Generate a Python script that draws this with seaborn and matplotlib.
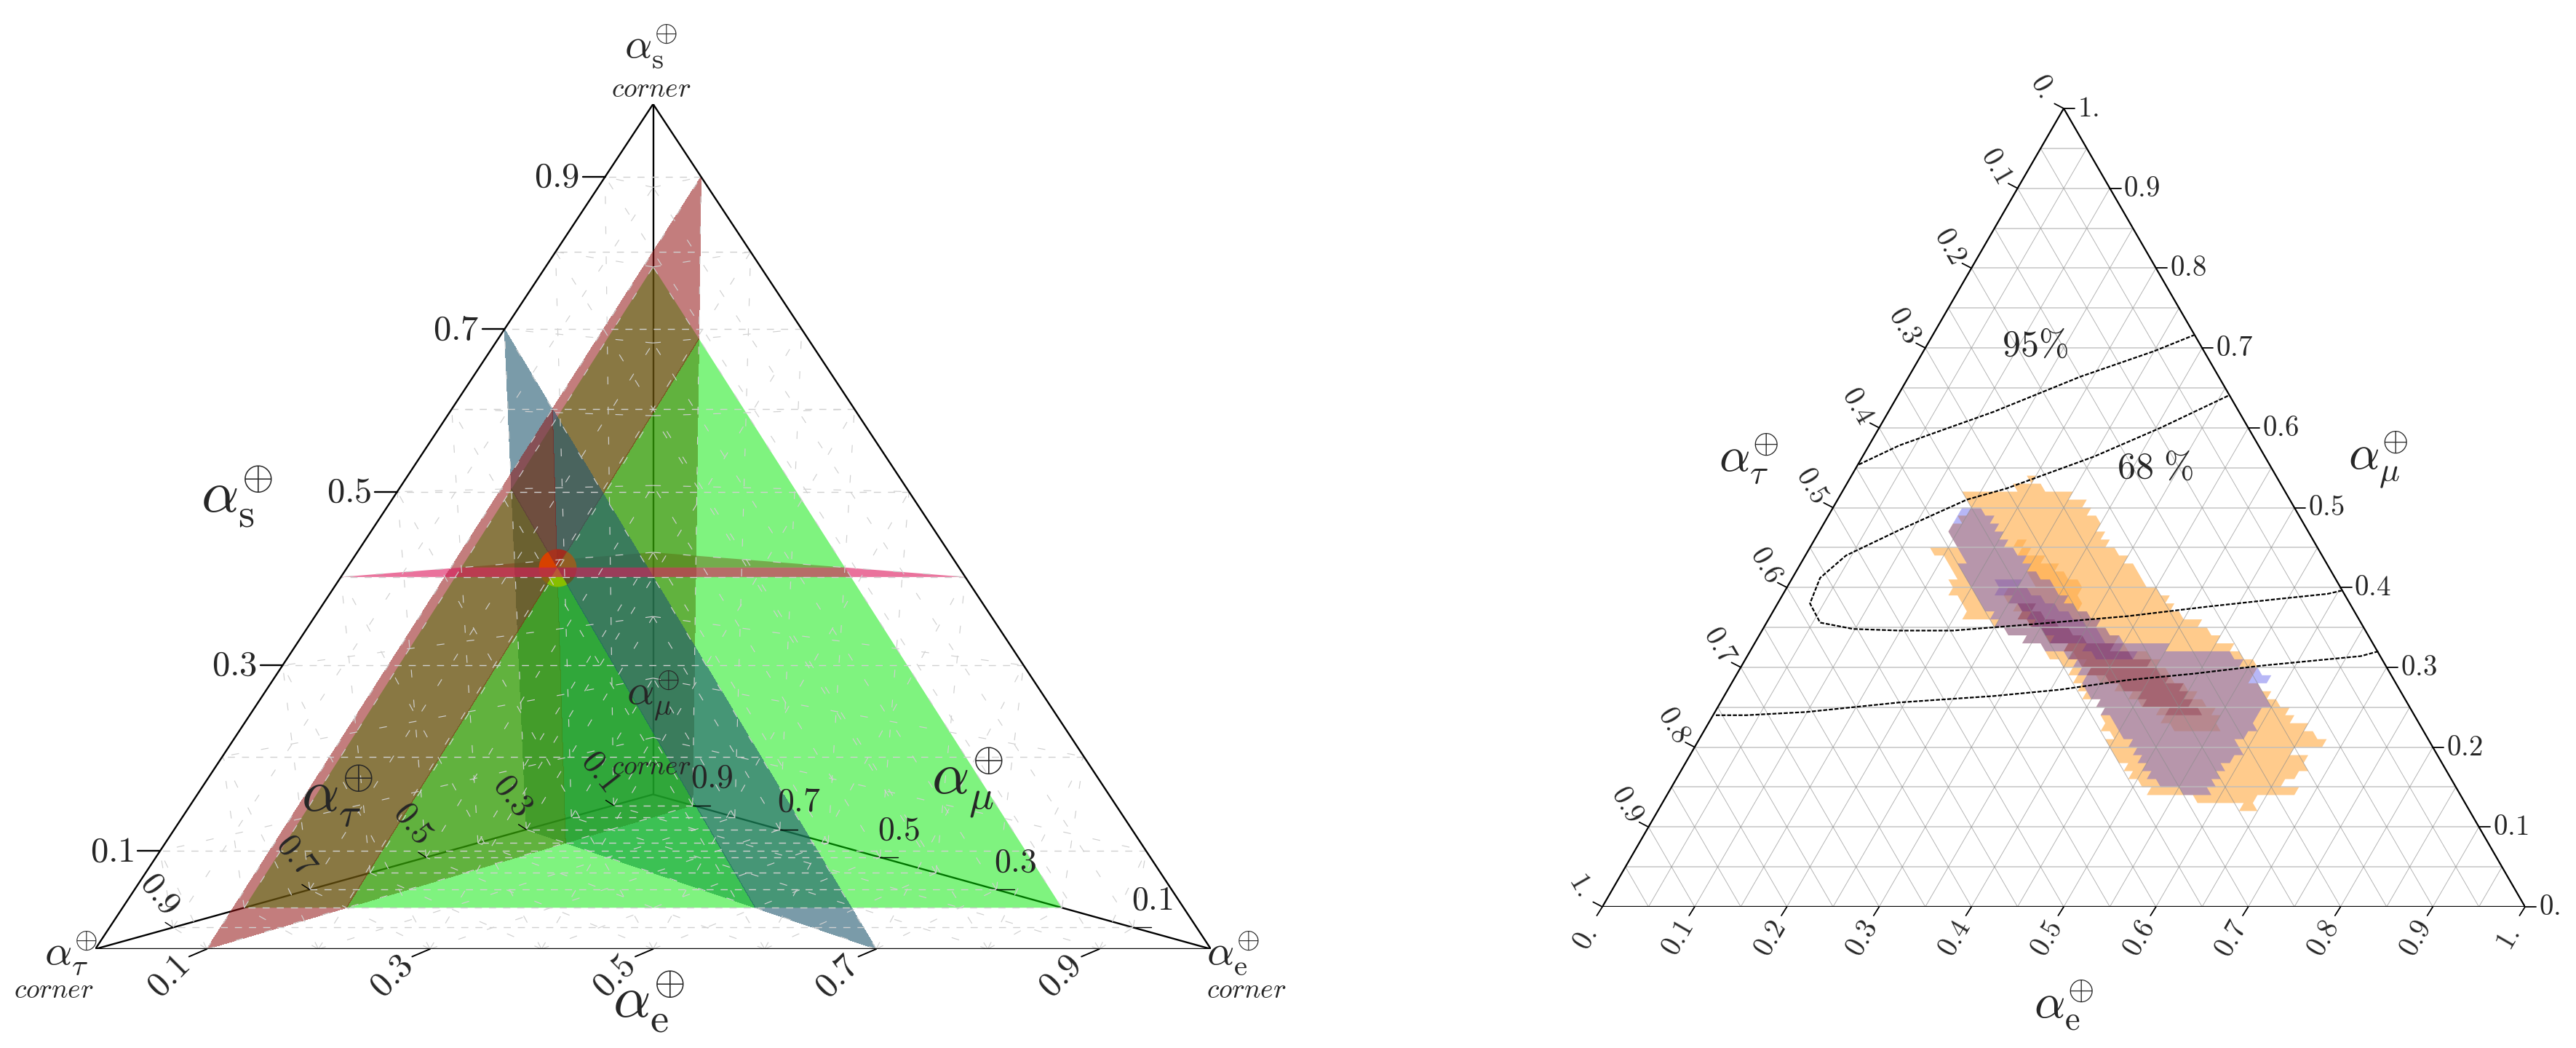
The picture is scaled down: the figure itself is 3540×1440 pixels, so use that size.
import matplotlib
matplotlib.use("Agg")
import matplotlib.pyplot as plt
import numpy as np
import pandas as pd
import seaborn as sns
from matplotlib.patches import PathPatch, Polygon
from matplotlib.path import Path

# flavour point and its four planes (e, mu, tau, s)
best_fit = (0.1, 0.2, 0.3, 0.4)
tick_values = [0.1, 0.3, 0.5, 0.7, 0.9]
grid_levels = [0.1, 0.2, 0.3, 0.4, 0.5, 0.6, 0.7, 0.8, 0.9]

# right panel: rows of the two histograms, left and right end of each row
orange_mu = [0.53, 0.52, 0.51, 0.50, 0.49, 0.48, 0.47, 0.46, 0.45, 0.44, 0.43, 0.42, 0.41, 0.40,
             0.39, 0.38, 0.37, 0.36, 0.35, 0.34, 0.33, 0.32, 0.31, 0.30, 0.29, 0.28, 0.27, 0.26,
             0.25, 0.24, 0.23, 0.22, 0.21, 0.20, 0.19, 0.18, 0.17, 0.16, 0.15, 0.14, 0.13, 0.12]
orange_left = [.465, .450, .395, .397, .399, .386, .378, .379, .383, .358, .372, .378, .383, .378,
               .378, .386, .395, .395, .423, .437, .460, .476, .483, .497, .506, .513, .518, .522,
               .536, .541, .541, .543, .553, .550, .552, .559, .566, .574, .585, .592, .645, .694]
orange_right = [.470, .478, .509, .522, .529, .536, .539, .544, .550, .557, .569, .576, .583, .590,
                .604, .611, .617, .629, .648, .659, .669, .683, .694, .706, .710, .704, .715, .722,
                .734, .743, .748, .761, .771, .785, .746, .761, .761, .754, .736, .754, .708, .710]

blue_mu = [0.49, 0.48, 0.47, 0.46, 0.45, 0.44, 0.43, 0.42, 0.41, 0.40, 0.39, 0.38, 0.37, 0.36,
           0.35, 0.34, 0.33, 0.32, 0.31, 0.30, 0.29, 0.28, 0.27, 0.26, 0.25, 0.24, 0.23, 0.22,
           0.21, 0.20, 0.19, 0.18, 0.17, 0.16, 0.15, 0.14]
blue_left = [.386, .381, .376, .379, .383, .386, .392, .390, .393, .399, .404, .407, .413, .423,
             .429, .437, .458, .479, .504, .511, .518, .522, .525, .530, .537, .544, .553, .560,
             .564, .573, .578, .583, .588, .595, .602, .627]
blue_right = [.411, .422, .427, .432, .437, .446, .457, .465, .474, .487, .495, .502, .511, .529,
              .536, .550, .564, .613, .682, .694, .711, .724, .715, .720, .724, .713, .708, .710,
              .696, .689, .692, .682, .673, .666, .662, .657]

dense_mu = [0.45, 0.44, 0.43, 0.42, 0.41, 0.40, 0.39, 0.38, 0.37, 0.36, 0.35, 0.34, 0.33, 0.32,
            0.31, 0.30, 0.29, 0.28, 0.27, 0.26, 0.25, 0.24, 0.23, 0.22]
dense_left = [.448, .451, .458, .465, .465, .469, .437, .437, .448, .455, .465, .476, .483, .501,
              .511, .522, .529, .539, .557, .574, .581, .602, .606, .620]
dense_right = [.458, .465, .479, .494, .501, .518, .518, .518, .518, .530, .539, .550, .557, .567,
               .592, .602, .613, .620, .631, .641, .655, .662, .666, .669]

core_mu = [0.37, 0.36, 0.35, 0.34, 0.33, 0.32, 0.31, 0.30, 0.29, 0.28, 0.27, 0.26, 0.25, 0.24]
core_left = [.451, .455, .462, .479, .483, .501, .508, .518, .529, .550, .564, .581, .588, .613]
core_right = [.469, .479, .494, .508, .522, .553, .571, .592, .602, .613, .627, .634, .638, .648]

blue_dense_mu = [0.40, 0.39, 0.38, 0.37, 0.36, 0.35, 0.34, 0.33, 0.32, 0.31]
blue_dense_left = [.430, .430, .441, .451, .462, .469, .479, .490, .522, .532]
blue_dense_right = [.451, .465, .479, .494, .508, .522, .536, .543, .564, .578]

# right panel: dashed contours
upper_x = [.278, .322, .424, .518, .598, .641]
upper_y = [.554, .578, .620, .664, .696, .716]
middle_x = [.678, .605, .533, .438, .395, .322, .264, .236, .225, .236, .272, .322, .380, .467, .569, .656, .736, .786, .801]
middle_y = [.640, .600, .564, .524, .510, .472, .440, .412, .380, .356, .348, .346, .346, .354, .364, .376, .386, .392, .396]
lower_x = [.123, .156, .221, .322, .424, .496, .569, .641, .714, .786, .822, .841]
lower_y = [.240, .240, .244, .256, .264, .272, .284, .292, .302, .310, .314, .320]

RED = (146 / 255, 19 / 255, 19 / 255)
GREEN = (0, 232 / 255, 0)
BLUE = (33 / 255, 88 / 255, 113 / 255)
PINK = (220 / 255, 20 / 255, 90 / 255)
ALPHA = {"r": 0.55, "g": 0.5, "b": 0.6}
COLOR = {"r": RED, "g": GREEN, "b": BLUE}

# perspective weights of the four corners
W = np.array([1.0, 1.457, 1.0, 1.18])
CORNERS = np.array([[1, 0], [0.5, 0.183], [0, 0], [0.5, 1.0]])


def project(point):
    w = np.array(point) * W
    return (w[:, None] * CORNERS).sum(axis=0) / w.sum()


def cross2(a, b):
    return a[0] * b[1] - a[1] * b[0]


def clip_side(poly, center, direction, sign):
    out = []
    for j in range(len(poly)):
        p, q = np.array(poly[j]), np.array(poly[(j + 1) % len(poly)])
        sp = sign * cross2(direction, p - center)
        sq = sign * cross2(direction, q - center)
        if sp >= 0:
            out.append(p)
        if sp * sq < 0:
            out.append(p + (q - p) * sp / (sp - sq))
    return out


def clip_wedge(poly, center, first, last):
    # keep what lies clockwise of first and counter-clockwise of last
    out = clip_side(poly, center, first - center, -1)
    if len(out) > 2:
        out = clip_side(out, center, last - center, 1)
    return out


def draw_left(ax):
    e, mu, tau, s = best_fit
    center = project(best_fit)
    corner = {k: tuple(np.eye(4)[i]) for i, k in enumerate("emts")}

    # tetrahedron mesh
    faces = ["ets", "mts", "mes", "etm"]
    idx = {"e": 0, "m": 1, "t": 2, "s": 3}
    for face in faces:
        for a in face:
            b, c = [k for k in face if k != a]
            for lev in grid_levels:
                p1 = np.zeros(4)
                p1[idx[a]] = lev
                p2 = p1.copy()
                p1[idx[b]] = 1 - lev
                p2[idx[c]] = 1 - lev
                q1, q2 = project(p1), project(p2)
                flat = abs(q1[1] - q2[1]) < 1e-3
                ls = (0, (7, 7)) if flat else (0, (9, 26))
                ax.plot([q1[0], q2[0]], [q1[1], q2[1]], color="#d0d0d0", lw=1.0 if flat else 0.85,
                        ls=ls, zorder=6)

    # back edges
    for k in "tes":
        q = np.array([project(corner["m"]), project(corner[k])])
        sns.lineplot(x=q[:, 0], y=q[:, 1], ax=ax, color="black", lw=1.7, sort=False, estimator=None, zorder=1)

    # pink plane, part behind the others
    back = [project((0, mu, 1 - mu - s, s)), project((1 - mu - s, mu, 0, s)), project((0, 1 - s, 0, s))]
    ax.fill(*zip(*back), color=PINK, alpha=0.6, lw=0, zorder=2)

    red = [project((e, 1 - e, 0, 0)), project((e, 0, 1 - e, 0)), project((e, 0, 0, 1 - e))]
    green = [project((1 - mu, mu, 0, 0)), project((0, mu, 1 - mu, 0)), project((0, mu, 0, 1 - mu))]
    blue = [project((1 - tau, 0, tau, 0)), project((0, 1 - tau, tau, 0)), project((0, 0, tau, 1 - tau))]

    rb_up = project((e, 0, tau, s + mu))
    rg_up = project((e, mu, 0, s + tau))
    gb_down = project((e + s, mu, tau, 0))
    rb_down = project((e, mu + s, tau, 0))
    rg_down = project((e, mu, tau + s, 0))
    gb_up = project((0, mu, tau, s + e))

    # painter's order: green stays whole, red and blue are cut along the real crossings
    layers = [
        ("r", rg_up, rb_down),
        ("b", gb_down, gb_up),
        ("r", rb_down, rg_down),
        ("g", None, None),
        ("r", rb_up, rg_up),
        ("b", gb_up, gb_down),
        ("r", rg_down, rb_up),
    ]
    plane = {"r": red, "g": green, "b": blue}
    for z, (key, first, last) in enumerate(layers):
        piece = plane[key] if first is None else clip_wedge(plane[key], center, first, last)
        if len(piece) > 2:
            ax.fill(*zip(*piece), color=COLOR[key], alpha=ALPHA[key], lw=0, antialiased=key == "g", zorder=3 + z * 0.01)

    # the marker at the crossing changes tint with the surfaces around it
    left_end = project((0, 0, 1 - s, s))
    right_end = project((1 - s, 0, 0, s))
    marker_parts = [
        (rb_up, rg_up, "#a02d1e"),
        (rg_up, right_end, "#915f23"),
        (right_end, gb_down, "#5a5a28"),
        (gb_down, rg_down, "#87be00"),
        (rg_down, left_end, "#876414"),
        (left_end, gb_up, "#d74100"),
        (gb_up, rb_up, "#a5321e"),
    ]
    for a, b, col in marker_parts:
        far_a = center + 6 * (a - center)
        far_b = center + 6 * (b - center)
        dots = ax.scatter([center[0]], [center[1]], s=1400, color=col, lw=0, zorder=4)
        dots.set_clip_path(Polygon([center, far_a, far_b], transform=ax.transData))

    # pink plane, front band
    band = [project((0, 0, 1 - s, s)), project((1 - s, 0, 0, s)),
            project((1 - s - mu, mu, 0, s)), project((0, mu, 1 - s - mu, s))]
    ax.fill(*zip(*band), color=PINK, alpha=0.6, lw=0, zorder=5)

    # outer edges
    q = np.array([project(corner["t"]), project(corner["s"]), project(corner["e"]), project(corner["t"])])
    sns.lineplot(x=q[:, 0], y=q[:, 1], ax=ax, color="black", lw=1.7, sort=False, estimator=None, zorder=7)

    for v in tick_values:
        p = project((0, 0, 1 - v, v))
        ax.plot([p[0] - 0.02, p[0]], [p[1], p[1]], color="black", lw=1.7, zorder=7, clip_on=False)
        ax.text(p[0] - 0.023, p[1], f"${v}$", fontsize=35, ha="right", va="center", clip_on=False)

        p = project((v, 0, 1 - v, 0))
        ax.plot([p[0] - 0.016, p[0]], [p[1] - 0.009, p[1]], color="black", lw=1.4, zorder=7, clip_on=False)
        ax.text(p[0] - 0.035, p[1] - 0.032, f"${v}$", fontsize=35, rotation=45, ha="center", va="center", clip_on=False)

        p = project((0, 1 - v, v, 0))
        ax.plot([p[0] - 0.007, p[0]], [p[1] + 0.006, p[1]], color="black", lw=1.0, zorder=7)
        ax.text(p[0] - 0.012, p[1] + 0.04, f"${v}$", fontsize=33, rotation=-52, ha="center", va="center", zorder=8)

        p = project((1 - v, v, 0, 0))
        ax.plot([p[0], p[0] + 0.016], [p[1], p[1]], color="black", lw=1.0, zorder=7)
        ax.text(p[0] + 0.017, p[1] + 0.032, f"${v}$", fontsize=33, ha="center", va="center", zorder=8)

    big = 58
    small = 42
    ax.text(0.127, 0.535, r"$\alpha_{\mathrm{s}}^{\oplus}$", fontsize=big, ha="center", va="center")
    ax.text(0.217, 0.181, r"$\alpha_{\tau}^{\oplus}$", fontsize=big, ha="center", va="center", zorder=8)
    ax.text(0.782, 0.197, r"$\alpha_{\mu}^{\oplus}$", fontsize=big, ha="center", va="center", zorder=8)
    ax.text(0.496, -0.063, r"$\alpha_{\mathrm{e}}^{\oplus}$", fontsize=big, ha="center", va="center", clip_on=False)

    labels = [
        (r"$\alpha_{\mathrm{s}}^{\oplus}$", 0.498, 1.068, 0.498, 1.017),
        (r"$\alpha_{\tau}^{\oplus}$", -0.022, -0.006, -0.037, -0.049),
        (r"$\alpha_{\mathrm{e}}^{\oplus}$", 1.02, -0.006, 1.032, -0.049),
        (r"$\alpha_{\mu}^{\oplus}$", 0.5, 0.30, 0.498, 0.215),
    ]
    for txt, x1, y1, x2, y2 in labels:
        ax.text(x1, y1, txt, fontsize=small, ha="center", va="center", clip_on=False, zorder=8)
        ax.text(x2, y2, r"$\mathit{corner}$", fontsize=27, ha="center", va="center", clip_on=False, zorder=8)


def cells(mu_rows, left, right, size=0.01):
    polys = []
    for m, lo, hi in zip(mu_rows, left, right):
        x = m / 2
        while x < 1 - m / 2:
            if lo <= x + size / 2 < hi:
                polys.append([(x, m), (x + size, m), (x + size / 2, m + size)])
            if lo <= x + size < hi:
                polys.append([(x + size / 2, m + size), (x + size, m), (x + 3 * size / 2, m + size)])
            x += size
    return polys


def add_layer(ax, polys, color, alpha, z):
    # one compound path, so neighbouring triangles do not blend twice
    verts, codes = [], []
    for tri in polys:
        verts += tri + [tri[0]]
        codes += [Path.MOVETO, Path.LINETO, Path.LINETO, Path.CLOSEPOLY]
    ax.add_patch(PathPatch(Path(verts, codes), facecolor=color, alpha=alpha, lw=0, zorder=z))


def draw_right(ax):
    add_layer(ax, cells(orange_mu, orange_left, orange_right), (1, 0.55, 0), 0.45, 2)
    add_layer(ax, cells(dense_mu, dense_left, dense_right), (1, 0.55, 0), 0.3, 2.1)
    add_layer(ax, cells(core_mu, core_left, core_right), (0.75, 0.25, 0), 0.45, 2.2)
    add_layer(ax, cells(blue_mu, blue_left, blue_right), (0.2, 0.2, 0.9), 0.35, 2.3)
    add_layer(ax, cells(blue_dense_mu, blue_dense_left, blue_dense_right), (0.25, 0.05, 0.7), 0.2, 2.4)

    for lev in np.arange(0.05, 1.0, 0.05):
        ax.plot([lev / 2, 1 - lev / 2], [lev, lev], color="#bdbdbd", lw=1.3, alpha=0.75, zorder=3)
        ax.plot([lev, (1 + lev) / 2], [0, 1 - lev], color="#8c8c8c", lw=0.7, alpha=0.65, zorder=3)
        ax.plot([lev, lev / 2], [0, lev], color="#8c8c8c", lw=0.7, alpha=0.65, zorder=3)

    for xs, ys in [(upper_x, upper_y), (middle_x, middle_y), (lower_x, lower_y)]:
        sns.lineplot(x=xs, y=ys, ax=ax, color="black", lw=1.6, ls=(0, (2.5, 1)), sort=False, estimator=None, zorder=4)

    edge = pd.DataFrame({"x": [0, 0.5, 1, 0], "y": [0, 1, 0, 0]})
    sns.lineplot(data=edge, x="x", y="y", ax=ax, color="black", lw=1.6, sort=False, estimator=None, zorder=5)

    names = ["0.", "0.1", "0.2", "0.3", "0.4", "0.5", "0.6", "0.7", "0.8", "0.9", "1."]
    for i, name in enumerate(names):
        v = i / 10
        ax.plot([v - 0.006, v], [-0.011, 0], color="black", lw=1.3, clip_on=False, zorder=5)
        ax.text(v - 0.018, -0.04, f"${name}$", fontsize=28, rotation=60, ha="center", va="center", clip_on=False)
        x, y = 1 - v / 2, v
        ax.plot([x, x + 0.012], [y, y], color="black", lw=1.3, clip_on=False, zorder=5)
        ax.text(x + 0.015, y, f"${name}$", fontsize=28, ha="left", va="center", clip_on=False)
        x, y = (1 - v) / 2, 1 - v
        ax.plot([x - 0.01, x], [y + 0.006, y], color="black", lw=1.3, clip_on=False, zorder=5)
        ax.text(x - 0.023, y + 0.028, f"${name}$", fontsize=28, rotation=-60, ha="center", va="center", clip_on=False)

    ax.text(0.159, 0.56, r"$\alpha_{\tau}^{\oplus}$", fontsize=48, ha="center", va="center")
    ax.text(0.841, 0.56, r"$\alpha_{\mu}^{\oplus}$", fontsize=48, ha="center", va="center")
    ax.text(0.5, -0.124, r"$\alpha_{\mathrm{e}}^{\oplus}$", fontsize=48, ha="center", va="center", clip_on=False)
    ax.text(0.469, 0.703, r"$95\%$", fontsize=36, ha="center", va="center")
    ax.text(0.599, 0.55, r"$68\ \%$", fontsize=36, ha="center", va="center")


def panel(fig, x0, x1, y0, y1):
    return fig.add_axes([x0 / 3540, 1 - y0 / 1440, (x1 - x0) / 3540, (y0 - y1) / 1440])


def main():
    sns.set_theme(style="white")
    plt.rcParams["mathtext.fontset"] = "cm"
    fig = plt.figure(figsize=(35.4, 14.4), dpi=100)

    ax1 = panel(fig, 131, 1664, 1304, 143)
    draw_left(ax1)
    ax2 = panel(fig, 2202, 3470, 1246, 149)
    draw_right(ax2)
    for ax in (ax1, ax2):
        ax.set_xlim(0, 1)
        ax.set_ylim(0, 1)
        ax.axis("off")
    fig.savefig("out.png", dpi=100)


main()
